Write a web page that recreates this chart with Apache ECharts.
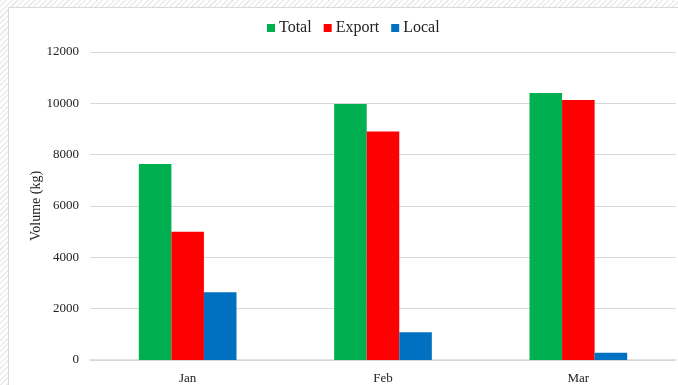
<!DOCTYPE html>
<html>
<head>
<meta charset="utf-8">
<script src="https://cdn.jsdelivr.net/npm/echarts@6/dist/echarts.min.js"></script>
<style>
html,body{margin:0;padding:0;}
body{width:678px;height:385px;overflow:hidden;
background:repeating-linear-gradient(135deg,#ececec 0 1.5px,#ffffff 1.5px 4px);}
#c{position:absolute;left:0;top:0;width:678px;height:385px;}
</style>
</head>
<body>
<div id="c"></div>
<script>
const categories = ['Jan', 'Feb', 'Mar'];
const totalValues = [7640, 9970, 10400];
const exportValues = [5000, 8900, 10130];
const localValues = [2640, 1080, 280];
const yTicks = [0, 2000, 4000, 6000, 8000, 10000, 12000];

const font = 'Liberation Serif, Times New Roman, serif';
const chart = echarts.init(document.getElementById('c'), null, {renderer: 'canvas'});
chart.setOption({
  animation: false,
  backgroundColor: 'transparent',
  graphic: [{
    type: 'rect', z: -10, silent: true,
    shape: {x: 8.5, y: 7.5, width: 700, height: 400},
    style: {fill: '#ffffff', stroke: '#d9d9d9', lineWidth: 1}
  }],
  legend: {
    top: 15, left: 262,
    itemWidth: 8, itemHeight: 8, itemGap: 12,
    icon: 'rect',
    textStyle: {fontFamily: font, fontSize: 16, color: '#222', padding: [0, 0, 0, -1]},
    data: ['Total', 'Export', 'Local']
  },
  grid: {left: 90, right: 2, top: 52, bottom: 25, containLabel: false},
  xAxis: {
    type: 'category', data: categories,
    axisLine: {show: true, lineStyle: {color: '#d9d9d9', width: 1.5}},
    axisTick: {show: false},
    axisLabel: {fontFamily: font, fontSize: 13, color: '#222', margin: 12}
  },
  yAxis: {
    type: 'value', min: yTicks[0], max: yTicks[yTicks.length - 1], interval: 2000,
    name: 'Volume (kg)', nameLocation: 'middle', nameRotate: 90, nameGap: 47,
    nameMoveOverlap: false,
    nameTextStyle: {fontFamily: font, fontSize: 14, color: '#222'},
    axisLine: {show: false}, axisTick: {show: false},
    axisLabel: {fontFamily: font, fontSize: 13, color: '#222', margin: 11,
      formatter: function (v) { return String(v); }},
    splitLine: {lineStyle: {color: '#d9d9d9', width: 1}}
  },
  series: [
    {name: 'Total', type: 'bar', data: totalValues, itemStyle: {color: '#00B050'}, barGap: '0%', barCategoryGap: '50%'},
    {name: 'Export', type: 'bar', data: exportValues, itemStyle: {color: '#FF0000'}, barGap: '0%', barCategoryGap: '50%'},
    {name: 'Local', type: 'bar', data: localValues, itemStyle: {color: '#0070C0'}, barGap: '0%', barCategoryGap: '50%'}
  ]
});
</script>
</body>
</html>
